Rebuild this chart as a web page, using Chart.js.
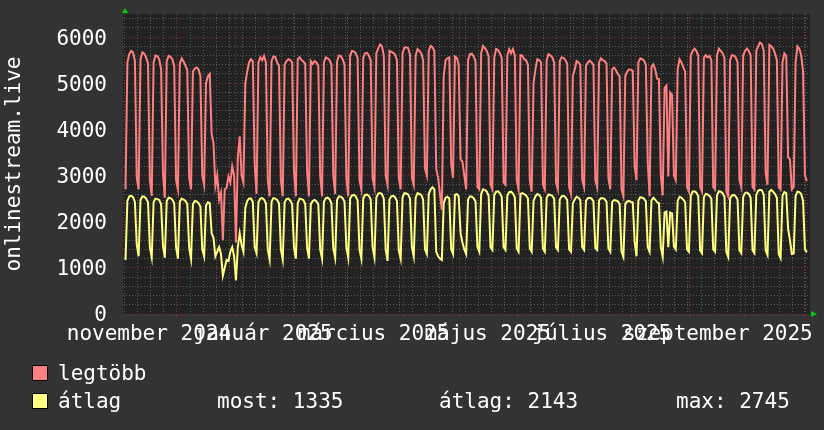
<!DOCTYPE html>
<html lang="hu">
<head>
<meta charset="UTF-8">
<title>onlinestream.live</title>
<script src="https://cdn.jsdelivr.net/npm/chart.js"></script>
<style>
  html, body { margin: 0; padding: 0; background: #333; }
  #wrap { position: relative; width: 824px; height: 430px; background: #333;
          font-family: 'DejaVu Sans Mono', monospace; font-size: 21px; color: #fff; }
  canvas { position: absolute; left: 0; top: 0; }
  .box { position: absolute; width: 14px; height: 14px; border: 1px solid #000; }
  .txt { position: absolute; line-height: 21px; white-space: pre; }
</style>
</head>
<body>
<div id="wrap">
  <canvas id="chart" width="824" height="430"></canvas>
  <div class="box" id="box0" style="left:32px;top:365px"></div>
  <div class="txt" id="name0" style="left:58px;top:363px"></div>
  <div class="box" id="box1" style="left:32px;top:393px"></div>
  <div class="txt" id="name1" style="left:58px;top:391px"></div>
  <div class="txt" style="left:217px;top:391px">most: 1335</div>
  <div class="txt" style="left:439px;top:391px">átlag: 2143</div>
  <div class="txt" style="left:676px;top:391px">max: 2745</div>
</div>

<script>
// one value per day, first day is Sunday 2024-11-03, then Mon..Sun per row
const firstDay = '2024-11-03';
const seriesNames = ['legtöbb', 'átlag'];

const legtobb = [
  2700,
  5450, 5630, 5700, 5670, 5490, 2950, 2700,
  5520, 5670, 5640, 5560, 5430, 2900, 2560,
  5450, 5600, 5590, 5520, 5300, 3050, 2520,
  5480, 5590, 5570, 5520, 5380, 2900, 2700,
  5420, 5540, 5470, 5380, 5280, 2950, 2700,
  5250, 5320, 5340, 5300, 5150, 3000, 2800,
  5000, 5150, 5200, 3900, 3700, 2770, 3000,
  2480, 2630, 1600, 2700, 2730, 2980, 2850,
  3200, 3000, 1550, 3400, 3850, 3000, 2850,
  5000, 5250, 5450, 5520, 5480, 3250, 2600,
  5450, 5560, 5500, 5590, 5450, 2900, 2550,
  5480, 5580, 5570, 5450, 5380, 2900, 2550,
  5400, 5480, 5520, 5500, 5450, 3100, 2550,
  5520, 5560, 5500, 5470, 5420, 3100, 2550,
  5480, 5420, 5480, 5450, 5380, 3000, 2550,
  5450, 5560, 5540, 5500, 5400, 3000, 2600,
  5470, 5600, 5590, 5520, 5400, 2950, 2550,
  5600, 5700, 5690, 5650, 5550, 2900, 2700,
  5550, 5650, 5660, 5600, 5500, 2950, 2750,
  5650, 5750, 5840, 5800, 5600, 3000, 2800,
  5700, 5680, 5660, 5620, 5500, 2950, 2700,
  5650, 5770, 5780, 5760, 5620, 2950, 2800,
  5600, 5740, 5700, 5650, 5500, 3150, 3000,
  5700, 5810, 5780, 5700, 3150, 2950, 2600,
  2250, 5160, 5500, 5540, 5560, 3250, 2950,
  5580, 5550, 5400, 3350, 3300, 3000, 2700,
  5500, 5630, 5640, 5580, 5480, 2750, 2700,
  5650, 5810, 5760, 5700, 5580, 2800, 2700,
  5550, 5740, 5720, 5650, 5550, 2850, 2800,
  5600, 5740, 5650, 5740, 5600, 2900, 2700,
  5610, 5600, 5520, 5500, 5400, 2900, 2650,
  5000, 5300, 5520, 5500, 5450, 2800, 2700,
  5500, 5630, 5600, 5560, 5450, 2850, 2700,
  5480, 5560, 5550, 5500, 5420, 2750, 2600,
  5160, 5300, 5480, 5450, 5400, 2900, 2750,
  5380, 5450, 5490, 5450, 5400, 2900, 2750,
  5450, 5540, 5500, 5480, 5420, 2950, 2700,
  5300, 5340, 5280, 5200, 5150, 2700, 2550,
  5150, 5250, 5300, 5290, 5270, 3200, 2900,
  5450, 5540, 5520, 5490, 5400, 3300, 2550,
  5350, 5410, 5300, 5100, 5090, 3000, 2570,
  4900, 4950, 2980, 4800, 4750, 3000, 2900,
  5300, 5520, 5450, 5350, 5250, 2750, 2650,
  5600, 5700, 5750, 5700, 5600, 2750, 2650,
  5550, 5610, 5560, 5590, 5500, 2750, 2700,
  5600, 5750, 5700, 5650, 5550, 2650, 2550,
  5500, 5610, 5600, 5560, 5450, 2900, 2750,
  5600, 5700, 5750, 5700, 5600, 2750, 2700,
  5700, 5800, 5880, 5850, 5700, 3050, 2800,
  5830, 5800, 5750, 5650, 5500, 2750, 2700,
  5450, 5650, 5600, 3400, 3350, 2700, 2750,
  5450, 5800, 5750, 5600, 5250, 3000, 2880
];

const atlag = [
  1170,
  2450, 2550, 2560, 2530, 2430, 1500, 1250,
  2470, 2550, 2540, 2500, 2420, 1450, 1230,
  2420, 2500, 2490, 2470, 2380, 1480, 1220,
  2450, 2520, 2510, 2480, 2400, 1450, 1200,
  2430, 2500, 2480, 2450, 2380, 1430, 1200,
  2380, 2450, 2440, 2400, 2330, 1400, 1250,
  2350, 2420, 2400, 1750, 1650, 1250, 1350,
  1450, 1300, 830, 1000, 1170, 1150, 1350,
  1450, 1250, 730, 1450, 1750, 1500, 1350,
  2300, 2450, 2500, 2500, 2430, 1450, 1320,
  2420, 2500, 2510, 2480, 2400, 1400, 1180,
  2430, 2510, 2500, 2470, 2400, 1400, 1180,
  2420, 2490, 2500, 2460, 2380, 1450, 1200,
  2400, 2500, 2490, 2470, 2390, 1450, 1200,
  2380, 2450, 2470, 2440, 2380, 1400, 1200,
  2430, 2510, 2520, 2490, 2400, 1420, 1220,
  2470, 2550, 2540, 2510, 2430, 1450, 1220,
  2500, 2570, 2580, 2550, 2460, 1400, 1200,
  2500, 2580, 2590, 2560, 2480, 1450, 1230,
  2520, 2610, 2620, 2600, 2500, 1400, 1150,
  2480, 2550, 2560, 2530, 2450, 1380, 1200,
  2530, 2620, 2610, 2590, 2500, 1450, 1250,
  2520, 2620, 2600, 2580, 2480, 1400, 1300,
  2600, 2700, 2745, 2700, 1350, 1250, 1200,
  1170, 2400, 2520, 2540, 2500, 1400, 1300,
  2580, 2600, 2550, 1750, 1550, 1400, 1300,
  2480, 2550, 2540, 2510, 2440, 1450, 1350,
  2600, 2700, 2690, 2650, 2560, 1450, 1390,
  2580, 2650, 2660, 2620, 2540, 1450, 1390,
  2570, 2640, 2650, 2610, 2530, 1420, 1350,
  2600, 2620, 2600, 2570, 2500, 1420, 1350,
  2450, 2550, 2600, 2580, 2520, 1420, 1350,
  2520, 2590, 2580, 2560, 2500, 1450, 1390,
  2480, 2550, 2560, 2530, 2470, 1400, 1350,
  2400, 2480, 2540, 2520, 2470, 1450, 1390,
  2450, 2510, 2520, 2500, 2440, 1430, 1390,
  2460, 2510, 2510, 2490, 2430, 1420, 1350,
  2430, 2470, 2460, 2440, 2380, 1350, 1240,
  2380, 2440, 2450, 2430, 2420, 1570, 1250,
  2460, 2530, 2520, 2500, 2440, 1450, 1350,
  2460, 2520, 2480, 2420, 2400, 1450, 1240,
  2200, 2220, 1450, 2200, 2180, 1460, 1400,
  2450, 2540, 2520, 2480, 2420, 1400, 1350,
  2560, 2650, 2660, 2630, 2550, 1380, 1320,
  2530, 2600, 2590, 2560, 2500, 1400, 1350,
  2570, 2660, 2650, 2620, 2540, 1350, 1240,
  2500, 2570, 2580, 2550, 2480, 1380, 1320,
  2540, 2620, 2630, 2600, 2520, 1380, 1320,
  2580, 2670, 2690, 2680, 2580, 1380, 1280,
  2650, 2690, 2650, 2600, 2520, 1300, 1210,
  2560, 2640, 2620, 1850, 1600, 1300, 1310,
  2560, 2650, 2640, 2600, 2450, 1400, 1335
];

const monthStarts = ['2024-12-01', '2025-01-01', '2025-02-01', '2025-03-01', '2025-04-01', '2025-05-01',
                     '2025-06-01', '2025-07-01', '2025-08-01', '2025-09-01', '2025-10-01', '2025-11-01'];
const labelMonths = ['2024-11-01', '2025-01-01', '2025-03-01', '2025-05-01', '2025-07-01', '2025-09-01'];
const xTickLabels = ['november 2024', 'január 2025', 'március 2025', 'május 2025', 'július 2025', 'szeptember 2025'];
const yTickLabels = ['0', '1000', '2000', '3000', '4000', '5000', '6000'];

// x axis works in days counted from 2024-11-01
const origin = Date.parse('2024-11-01');
const dayOf = s => (Date.parse(s) - origin) / 864e5;
const xMin = 1.15, xMax = 368.2;
const yMax = 6500, yMinorStep = 200, yMajorStep = 1000;

const colors = ['#ff8080', '#ffff80'];
const minorGrid = '#5a5a5a';
const majorGrid = '#7e3434';
const font = { family: 'DejaVu Sans Mono', size: 21 };

const start = dayOf(firstDay);
const toPoints = arr => arr.map((v, i) => ({ x: start + i + 0.5, y: v }));

const weekLines = [];
for (let d = start; d <= xMax; d += 7) weekLines.push({ value: d });
const monthLines = monthStarts.map(s => ({ value: dayOf(s) }));
const labelTicks = labelMonths.map(s => ({ value: dayOf(s) + 15 }));
const yLines = [];
for (let v = 0; v < yMax; v += yMinorStep) yLines.push({ value: v });

document.getElementById('box0').style.background = colors[0];
document.getElementById('box1').style.background = colors[1];
document.getElementById('name0').textContent = seriesNames[0];
document.getElementById('name1').textContent = seriesNames[1];

const flatAxis = s => { s.height = 0; s.paddingLeft = 0; s.paddingRight = 0; };

const plotBg = {
  id: 'plotBg',
  beforeDraw(chart) {
    const { ctx, chartArea: a } = chart;
    ctx.save();
    ctx.fillStyle = '#222';
    ctx.fillRect(a.left, a.top, a.right - a.left, a.bottom - a.top);
    ctx.restore();
  }
};

const arrows = {
  id: 'arrows',
  afterDraw(chart) {
    const { ctx, chartArea: a } = chart;
    const y0 = chart.scales.y.getPixelForValue(0);
    ctx.save();
    ctx.fillStyle = '#00cc00';
    ctx.beginPath();
    ctx.moveTo(a.left + 2, a.top - 6);
    ctx.lineTo(a.left - 1, a.top - 1);
    ctx.lineTo(a.left + 5, a.top - 1);
    ctx.fill();
    ctx.beginPath();
    ctx.moveTo(a.right + 7, y0);
    ctx.lineTo(a.right + 1, y0 - 3);
    ctx.lineTo(a.right + 1, y0 + 3);
    ctx.fill();
    ctx.restore();
  }
};

new Chart(document.getElementById('chart'), {
  type: 'line',
  data: {
    datasets: [
      { label: seriesNames[0], data: toPoints(legtobb), borderColor: colors[0], xAxisID: 'x', yAxisID: 'y' },
      { label: seriesNames[1], data: toPoints(atlag), borderColor: colors[1], xAxisID: 'x', yAxisID: 'y' }
    ]
  },
  options: {
    responsive: false,
    animation: false,
    layout: { padding: { top: 14, right: 14, bottom: 86, left: 0 } },
    elements: {
      line: { borderWidth: 2, tension: 0, fill: false },
      point: { radius: 0 }
    },
    plugins: { legend: { display: false }, tooltip: { enabled: false } },
    scales: {
      x: {
        type: 'linear', min: xMin, max: xMax, position: 'bottom', weight: 0,
        afterBuildTicks: s => { s.ticks = weekLines; },
        afterFit: flatAxis,
        ticks: { display: false, autoSkip: false },
        grid: { color: minorGrid, drawTicks: false },
        border: { display: false, dash: [1, 2] }
      },
      xm: {
        type: 'linear', min: xMin, max: xMax, position: 'bottom', weight: 1,
        afterBuildTicks: s => { s.ticks = monthLines; },
        afterFit: flatAxis,
        ticks: { display: false, autoSkip: false },
        grid: { color: majorGrid, drawTicks: true, tickLength: 3 },
        border: { display: false, dash: [1, 2] }
      },
      xl: {
        type: 'linear', min: xMin, max: xMax, position: 'bottom', weight: 2,
        afterBuildTicks: s => { s.ticks = labelTicks; },
        afterFit: s => { s.height = 30; s.paddingLeft = 0; s.paddingRight = 0; },
        ticks: {
          autoSkip: false, maxRotation: 0, minRotation: 0, padding: 0,
          color: '#fff', font: font,
          callback: (v, i) => xTickLabels[i]
        },
        grid: { display: false },
        border: { display: false }
      },
      y: {
        type: 'linear', min: 0, max: yMax,
        afterBuildTicks: s => { s.ticks = yLines; },
        afterFit: s => { s.width = 123; s.paddingTop = 0; s.paddingBottom = 0; },
        ticks: {
          autoSkip: false, padding: 16, labelOffset: 2, color: '#fff', font: font,
          callback: v => v % yMajorStep === 0 ? yTickLabels[v / yMajorStep] : ''
        },
        grid: {
          drawTicks: false,
          color: c => c.tick && c.tick.value % yMajorStep === 0 ? majorGrid : minorGrid
        },
        border: { display: false, dash: [1, 2] },
        title: {
          display: true, text: 'onlinestream.live', color: '#fff',
          font: { family: 'DejaVu Sans Mono', size: 21, lineHeight: 1.05 },
          padding: { top: 4, bottom: 0 }
        }
      }
    }
  },
  plugins: [plotBg, arrows]
});
</script>
</body>
</html>
